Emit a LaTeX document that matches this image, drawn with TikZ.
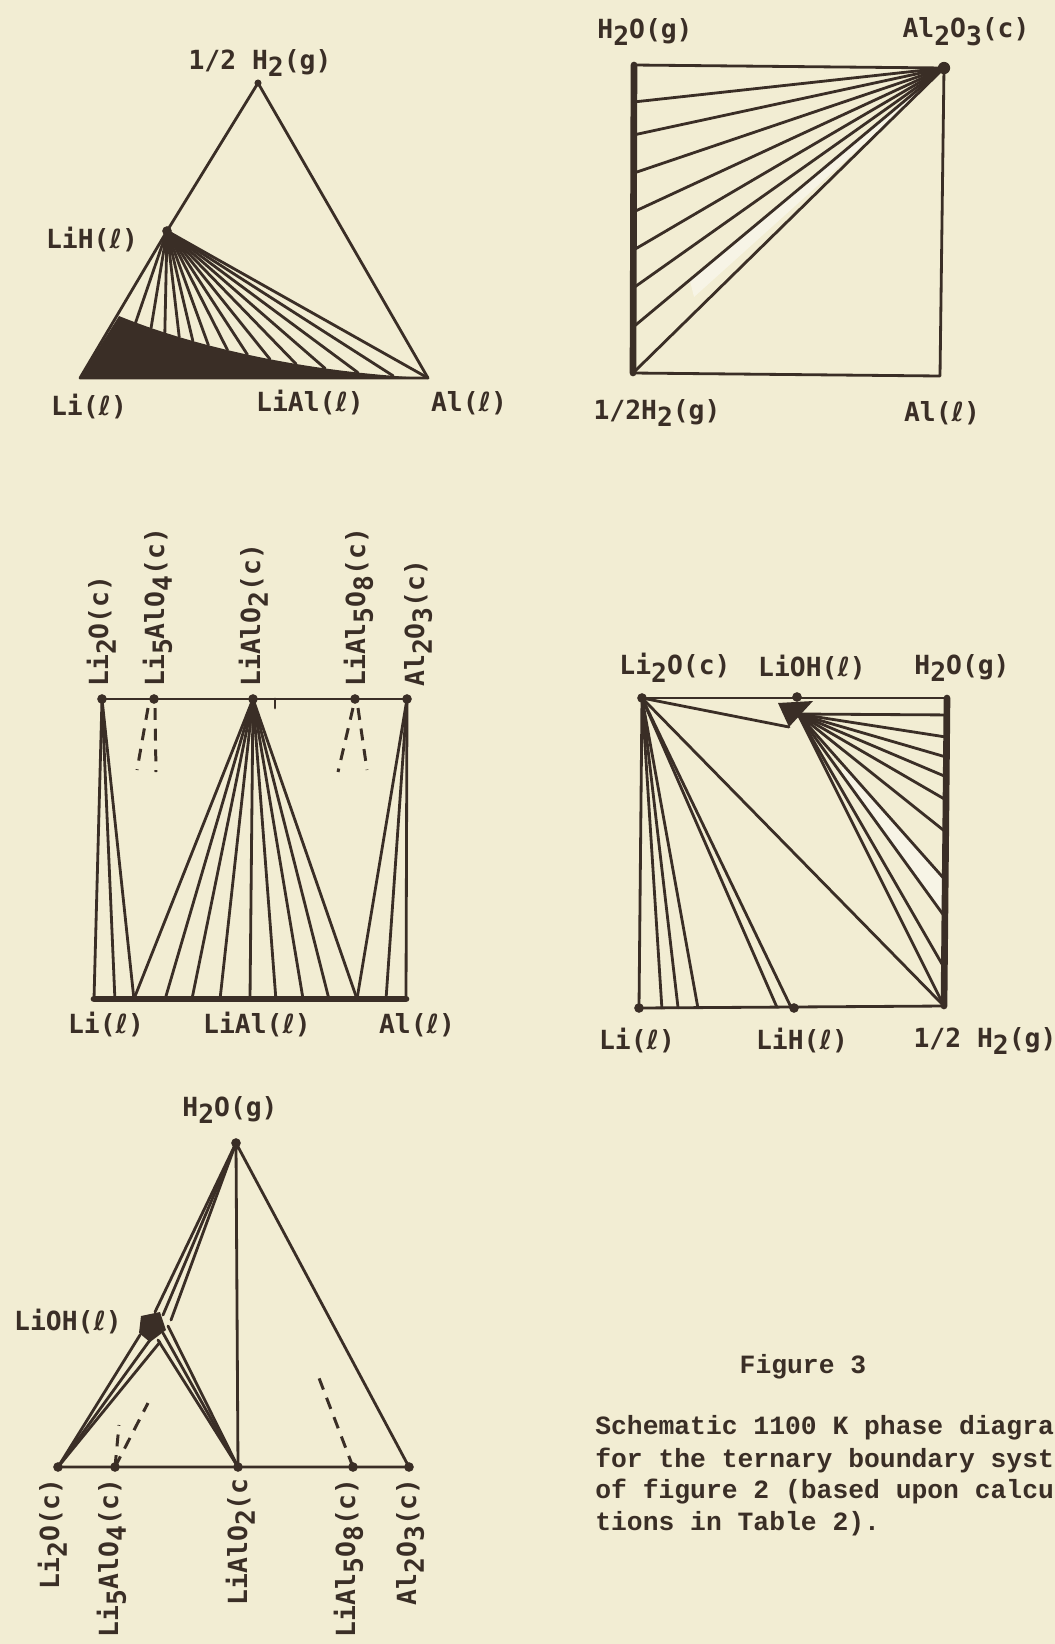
\documentclass[tikz,border=0pt]{standalone}
\usepackage{fontspec}
\setmonofont{DejaVu Sans Mono}
\newfontfamily\captfont{Liberation Mono}
\newfontfamily\ellfont{DejaVu Sans}
\usepackage{xcolor}
\definecolor{paper}{HTML}{F2EDD3}
\definecolor{ink}{HTML}{3A2E26}
\definecolor{pale}{HTML}{F7F4E6}
\usetikzlibrary{positioning, calc}
\newcommand{\lo}[1]{\raisebox{-0.55ex}{#1}}
\newcommand{\liq}{{\ellfont ℓ}}

\begin{document}
\begin{tikzpicture}[x=0.02cm, y=-0.02cm,
  tie/.style={draw=ink, line width=1.6pt, line cap=round, line join=round},
  rim/.style={draw=ink, line width=3.8pt, line cap=round},
  dashtie/.style={draw=ink, line width=1.7pt, dash pattern=on 6.8pt off 5pt},
  phase/.style={circle, fill=ink, inner sep=0pt, minimum size=5.5pt},
  lbl/.style={font=\ttfamily\bfseries\fontsize{15}{17}\selectfont, text=ink, inner sep=0pt},
  capt/.style={font=\captfont\bfseries\fontsize{15}{17}\selectfont, text=ink, inner sep=0pt, anchor=west}
]
\fill[paper] (0,0) rectangle (1055,1644);
\useasboundingbox (0,0) rectangle (1055,1644);

% (a) Li - Al - H
\coordinate (ali) at (80,378);
\coordinate (aal) at (428,378);
\coordinate (aknee) at (119,316);
\fill[ink] (ali) -- (aknee) .. controls (190,345) and (300,372) .. (aal) -- cycle;
\node[phase, minimum size=4pt] (ah2) at (258,83) {};
\node[phase] (alih) at (167,231) {};
\draw[tie] (ali) -- (alih.center) -- (ah2.center) -- (aal) -- cycle;
\draw[tie] (alih.center) -- (aal);
\foreach \t in {0.075,0.14,0.195,0.25,0.3,0.355,0.42,0.485,0.556,0.635,0.72,0.812,0.908}{
  \path (aknee) .. controls (190,345) and (300,372) .. (aal) coordinate[pos=\t] (aend);
  \draw[tie] (alih.center) -- (aend);
}
\node[lbl] (alblh2) at (260,63) {1/2 H\lo{2}(g)};
\node[lbl] (albllih) at (92,240) {LiH(\liq)};
\node[lbl] (alblli) at (89,407) {Li(\liq)};
\node[lbl] (alblliai) at (310,403) {LiAl(\liq)};
\node[lbl] (alblal) at (469,403) {Al(\liq)};

% (b) Al - O - H
\coordinate (btl) at (634,65);
\coordinate (bbl) at (633,373);
\coordinate (bbr) at (940,376);
\node[phase, minimum size=7pt] (bal2o3) at (944,68) {};
\fill[pale] (690,281) -- (916,92) -- (916,97) -- (694,297) -- cycle;
\draw[tie] (btl) -- (bal2o3.center) -- (bbr) -- (bbl);
\foreach \f in {0.12,0.227,0.351,0.477,0.601,0.724,0.851,1}
  \draw[tie] (bal2o3.center) -- ($(btl)!\f!(bbl)$);
\draw[rim] (btl) -- (bbl);
\node[lbl] (blblh2o) at (645,32) {H\lo{2}O(g)};
\node[lbl] (blblal2o3) at (966,32) {Al\lo{2}O\lo{3}(c)};
\node[lbl] (blblh2) at (657,413) {1/2H\lo{2}(g)};
\node[lbl] (blblal) at (942,413) {Al(\liq)};

% (c) Li - Al - O
\node[phase] (cli2o) at (102,699) {};
\node[phase] (cli5) at (154,699) {};
\node[phase] (clialo2) at (253,699) {};
\node[phase] (clial5) at (355,699) {};
\node[phase] (cal2o3) at (407,699) {};
\coordinate (cli) at (94,999);
\coordinate (cal) at (406,999);
\coordinate (ctick) at (275,699);
\draw[tie] (cli2o.center) -- (cal2o3.center);
\draw[tie] (cli2o.center) -- (cli);
\draw[tie] (cal2o3.center) -- (cal);
\draw[tie] (ctick) -- ++(0,9);
\foreach \f in {0.067,0.128} \draw[tie] (cli2o.center) -- ($(cli)!\f!(cal)$);
\foreach \f in {0.128,0.228,0.314,0.404,0.5,0.583,0.67,0.753,0.843}
  \draw[tie] (clialo2.center) -- ($(cli)!\f!(cal)$);
\foreach \f in {0.843,0.936} \draw[tie] (cal2o3.center) -- ($(cli)!\f!(cal)$);
\fill[ink] (clialo2.center) -- (246,722) -- (260,722) -- cycle;
\draw[rim] (cli) -- (cal);
\coordinate (c5a) at (148,708); \coordinate (c5b) at (137,770);
\coordinate (c5c) at (155,708); \coordinate (c5d) at (156,772);
\coordinate (c8a) at (353,708); \coordinate (c8b) at (338,772);
\coordinate (c8c) at (358,708); \coordinate (c8d) at (367,770);
\draw[dashtie] (c5a) -- (c5b);
\draw[dashtie] (c5c) -- (c5d);
\draw[dashtie] (c8a) -- (c8b);
\draw[dashtie] (c8c) -- (c8d);
\node[lbl, rotate=90, anchor=base west] (clblli2o) at (108,687) {Li\lo{2}O(c)};
\node[lbl, rotate=90, anchor=base west] (clblli5) at (164,687) {Li\lo{5}AlO\lo{4}(c)};
\node[lbl, rotate=90, anchor=base west] (clbllialo2) at (260,687) {LiAlO\lo{2}(c)};
\node[lbl, rotate=90, anchor=base west] (clbllial5) at (365,687) {LiAl\lo{5}O\lo{8}(c)};
\node[lbl, rotate=90, anchor=base west] (clblal2o3) at (424,687) {Al\lo{2}O\lo{3}(c)};
\node[lbl] (clblli) at (106,1025) {Li(\liq)};
\node[lbl] (clbllial) at (257,1025) {LiAl(\liq)};
\node[lbl] (clblal) at (417,1025) {Al(\liq)};

% (d) Li - O - H
\node[phase] (dli2o) at (642,698) {};
\node[phase] (dlioh) at (797,697) {};
\node[phase] (dlih) at (794,1008) {};
\node[phase] (dli) at (639,1008) {};
\coordinate (dtr) at (947,698);
\coordinate (dbr) at (944,1006);
\coordinate (dfan) at (798,714);
\coordinate (dbot) at (789,727);
\fill[pale] (842,764) -- (945,880) -- (945,917) -- (842,775) -- cycle;
\fill[ink] (778,703) -- (813,701) -- (dbot) -- cycle;
\draw[tie] (dli2o.center) -- (dtr);
\draw[tie] (dli2o.center) -- (dli.center) -- (dbr);
\draw[tie] (dli2o.center) -- (dbot);
\foreach \f in {0.075,0.128,0.193,0.452,0.498,1}
  \draw[tie] (dli2o.center) -- ($(dli)!\f!(dbr)$);
\foreach \f in {0.055,0.127,0.192,0.256,0.331,0.435,0.591,0.711,0.877,1}
  \draw[tie] (dfan) -- ($(dtr)!\f!(dbr)$);
\draw[rim] (dtr) -- (dbr);
\node[lbl] (dlblli2o) at (675,668) {Li\lo{2}O(c)};
\node[lbl] (dlbllioh) at (812,668) {LiOH(\liq)};
\node[lbl] (dlblh2o) at (962,668) {H\lo{2}O(g)};
\node[lbl] (dlblli) at (637,1041) {Li(\liq)};
\node[lbl] (dlbllih) at (802,1041) {LiH(\liq)};
\node[lbl] (dlblh2) at (985,1041) {1/2 H\lo{2}(g)};

% (e) Li - Al - O - H
\node[phase] (eh2o) at (236,1143) {};
\node[phase] (eli2o) at (58,1467) {};
\node[phase] (eli5) at (115,1467) {};
\node[phase] (elialo2) at (238,1467) {};
\node[phase] (elial5) at (353,1467) {};
\node[phase] (eal2o3) at (409,1467) {};
\coordinate (eup1) at (155,1312); \coordinate (eup2) at (163,1315); \coordinate (eup3) at (171,1320);
\coordinate (elo1) at (140,1335); \coordinate (elo2) at (150,1340); \coordinate (elo3) at (160,1342);
\coordinate (eri1) at (158,1340); \coordinate (eri2) at (163,1333); \coordinate (eri3) at (168,1326);
\fill[ink] (141,1316) -- (160,1312) -- (166,1330) -- (150,1342) -- (139,1333) -- cycle;
\draw[tie] (eli2o.center) -- (eal2o3.center) -- (eh2o.center) -- (elialo2.center);
\foreach \i in {1,2,3}{
  \draw[tie] (eh2o.center) -- (eup\i);
  \draw[tie] (eli2o.center) -- (elo\i);
  \draw[tie] (elialo2.center) -- (eri\i);
}
\coordinate (e5a) at (148,1403); \coordinate (e5b) at (119,1425); \coordinate (e8a) at (319,1378);
\draw[dashtie] (eli5.center) -- (e5a);
\draw[dashtie] (eli5.center) -- (e5b);
\draw[dashtie] (elial5.center) -- (e8a);
\node[lbl] (elblh2o) at (230,1110) {H\lo{2}O(g)};
\node[lbl] (elbllioh) at (68,1322) {LiOH(\liq)};
\node[lbl, rotate=90, anchor=base east] (elblli2o) at (59,1478) {Li\lo{2}O(c)};
\node[lbl, rotate=90, anchor=base east] (elblli5) at (118,1478) {Li\lo{5}AlO\lo{4}(c)};
\node[lbl, rotate=90, anchor=base east] (elbllialo2) at (247,1478) {LiAlO\lo{2}(c};
\node[lbl, rotate=90, anchor=base east] (elbllial5) at (355,1478) {LiAl\lo{5}O\lo{8}(c)};
\node[lbl, rotate=90, anchor=base east] (elblal2o3) at (416,1478) {Al\lo{2}O\lo{3}(c)};

% caption
\node[capt, anchor=center] (fig) at (803,1367) {Figure 3};
\node[capt] (cap1) at (595,1428) {Schematic 1100 K phase diagra};
\node[capt] (cap2) at (595,1460) {for the ternary boundary syst};
\node[capt] (cap3) at (595,1492) {of figure 2 (based upon calcu};
\node[capt] (cap4) at (595,1524) {tions in Table 2).};
\end{tikzpicture}
\end{document}
